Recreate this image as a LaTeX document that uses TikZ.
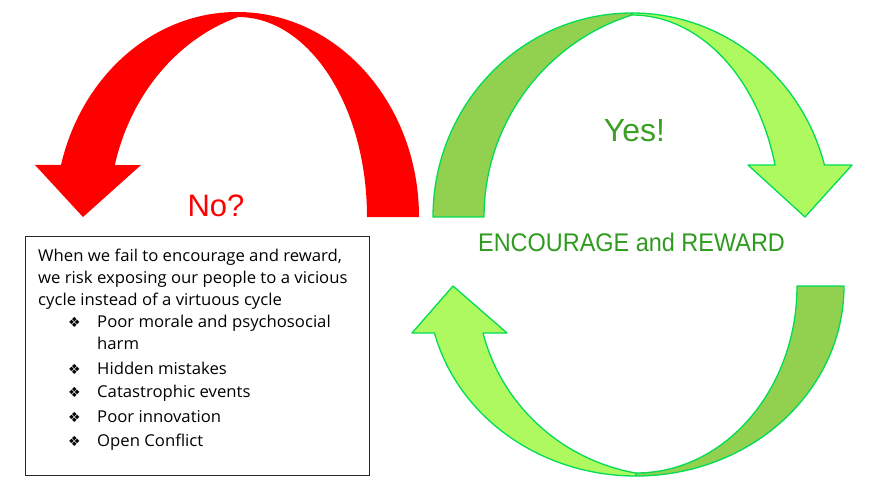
\documentclass[tikz,border=0pt]{standalone}
\usepackage{fontspec}
\setmainfont{Liberation Sans}
\newfontfamily\boxfont[FakeStretch=1.025]{Open Sans}
\newfontfamily\encfont[FakeStretch=0.92]{Liberation Sans}
\newfontfamily\symfont{DejaVu Sans}
\usetikzlibrary{calc}
\definecolor{arrowred}{HTML}{FF0000}
\definecolor{gdarkfill}{HTML}{92D050}
\definecolor{glightfill}{HTML}{AEF95F}
\definecolor{gstroke}{HTML}{00DD55}
\definecolor{gtext}{RGB}{46,155,30}
\definecolor{ytext}{RGB}{58,160,38}
\tikzset{
  gdark/.style={fill=gdarkfill, draw=gstroke, line width=1.3pt, line join=round},
  glight/.style={fill=glightfill, draw=gstroke, line width=1.3pt, line join=round},
  boxtext/.style={anchor=base west, inner sep=0pt, font=\boxfont\fontsize{16.3}{19}\selectfont, text=black},
  bul/.style={anchor=base west, inner sep=0pt, font=\symfont\fontsize{14}{16}\selectfont, text=black},
}
\begin{document}
\begin{tikzpicture}[x=1pt,y=1pt]
\useasboundingbox (0,0) rectangle (888,499);
% red curved arrow
\fill[arrowred] (419,282) arc[start angle=0,end angle=165.3,x radius=182,y radius=205]
  -- (35,334) -- (83,282) -- (141,334) -- (114.8,334)
  arc[start angle=165.66,end angle=107.7,x radius=185.6,y radius=210]
  -- (238,482) arc[start angle=90,end angle=0,x radius=129,y radius=200] -- cycle;
% top green arrow
\filldraw[gdark] (433,282) arc[start angle=180,end angle=90,x radius=199,y radius=204]
  -- (631.8,484) arc[start angle=107.67,end angle=180,x radius=212.2,y radius=212] -- cycle;
\filldraw[glight] (632,486) arc[start angle=90,end angle=14.77,x radius=199,y radius=204]
  -- (852,334) -- (805,282) -- (748,334) -- (775,334)
  arc[start angle=14.92,end angle=90,x radius=148,y radius=202] -- cycle;
% bottom green arrow
\filldraw[gdark] (797,213) -- (844,213) arc[start angle=0,end angle=-90,x radius=208,y radius=190]
  -- (636,26) arc[start angle=270,end angle=360,x radius=161,y radius=187] -- cycle;
\filldraw[glight] (636,23) arc[start angle=270,end angle=194.32,x radius=208,y radius=190]
  -- (412,166) -- (453,213) -- (507,166) -- (483,166)
  arc[start angle=194.3,end angle=259.8,x radius=193.2,y radius=190] -- cycle;
% labels
\node[anchor=base, inner sep=0pt, text=arrowred, font=\fontsize{31}{36}\selectfont] (no) at (216,283) {No?};
\node[anchor=base, inner sep=0pt, text=ytext, font=\fontsize{32}{38}\selectfont] (yes) at (634.5,357) {Yes!};
\node[anchor=base, inner sep=0pt, text=gtext, font=\encfont\fontsize{25.5}{30}\selectfont] (enc) at (631.5,248) {ENCOURAGE and REWARD};
% text box
\node[draw=black!85, line width=0.9pt, anchor=south west, minimum width=344pt, minimum height=239pt, inner sep=0pt] (box) at (25,23) {};
\node[boxtext] (l1) at (38,238) {When we fail to encourage and reward,};
\node[boxtext] (l2) at (38,216) {we risk exposing our people to a vicious};
\node[boxtext] (l3) at (38,194) {cycle instead of a virtuous cycle};
\node[bul] (b1) at (68,172) {❖};
\node[boxtext] (t1) at (97,172) {Poor morale and psychosocial};
\node[boxtext] (t1b) at (97,150) {harm};
\node[bul] (b2) at (68,125) {❖};
\node[boxtext] (t2) at (97,125) {Hidden mistakes};
\node[bul] (b3) at (68,102) {❖};
\node[boxtext] (t3) at (97,102) {Catastrophic events};
\node[bul] (b4) at (68,77) {❖};
\node[boxtext] (t4) at (97,77) {Poor innovation};
\node[bul] (b5) at (68,53) {❖};
\node[boxtext] (t5) at (97,53) {Open Conflict};
\end{tikzpicture}
\end{document}
